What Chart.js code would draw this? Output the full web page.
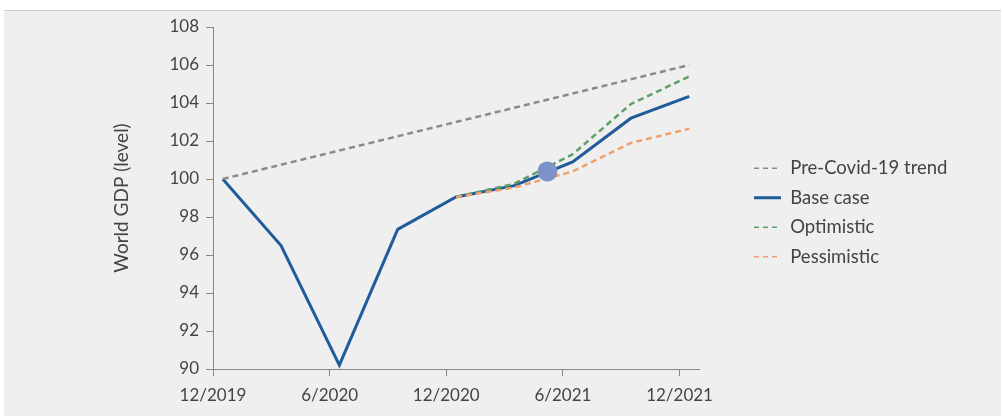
<!DOCTYPE html>
<html>
<head>
<meta charset="utf-8">
<script src="https://cdn.jsdelivr.net/npm/chart.js@4.4.1/dist/chart.umd.min.js"></script>
<style>
  body { margin: 0; background: #fff; }
  .panel {
    position: absolute; left: 4px; top: 10px; width: 997px; height: 406px;
    background: #efefef; border-top: 1px solid #cfcfcf;
  }
  #myChart { position: absolute; left: 0; top: 0; }
</style>
</head>
<body>
<div class="panel"></div>
<canvas id="myChart" width="1004" height="416"></canvas>
<script>
"use strict";

// months after 12/2019
let months = [0.5, 3.5, 6.5, 9.5, 12.5, 15.5, 18.5, 21.5, 24.5];
let baseCase = [100, 96.5, 90.2, 97.35, 99.05, 99.65, 100.9, 103.2, 104.35];

let scenarioMonths = [12.5, 15.5, 18.5, 21.5, 24.5];
let optimistic = [99.05, 99.75, 101.3, 103.95, 105.4];
let pessimistic = [99.05, 99.55, 100.4, 101.9, 102.65];

let trendMonths = [0.5, 24.5];
let trend = [100, 106];

let markerMonth = [17.2];
let markerValue = [100.4];

let tickMonths = [0, 6, 12, 18, 24];
let tickLabels = ["12/2019", "6/2020", "12/2020", "6/2021", "12/2021"];

const pts = (xs, ys) => xs.map((x, i) => ({ x: x, y: ys[i] }));

const font = { family: "Lato", size: 17 };
const bigFont = { family: "Lato", size: 18.5 };
const textColor = "#444";

// keep the legend clear of the plot, like the original
const legendPlace = {
  id: "legendPlace",
  afterInit(chart) {
    const lg = chart.legend;
    const fit = lg.fit.bind(lg);
    lg.fit = function () {
      fit();
      this.width = 305;
    };
  },
  afterLayout(chart) {
    const lg = chart.legend;
    lg.left += 44;
    lg.right += 44;
    lg.top -= 6;
    lg.bottom -= 6;
  },
};

const ctx = document.getElementById("myChart");

new Chart(ctx, {
  data: {
    datasets: [
      {
        type: "line",
        label: "Pre-Covid-19 trend",
        data: pts(trendMonths, trend),
        borderColor: "#8a8a8a",
        borderWidth: 2.5,
        borderDash: [6, 4],
        pointRadius: 0,
        order: 3,
      },
      {
        type: "line",
        label: "Base case",
        data: pts(months, baseCase),
        borderColor: "#1f5c99",
        borderWidth: 3,
        pointRadius: 0,
        order: 4,
      },
      {
        type: "line",
        label: "Optimistic",
        data: pts(scenarioMonths, optimistic),
        borderColor: "#5c9f6b",
        borderWidth: 2.5,
        borderDash: [6, 4],
        pointRadius: 0,
        order: 2,
      },
      {
        type: "line",
        label: "Pessimistic",
        data: pts(scenarioMonths, pessimistic),
        borderColor: "#f0a06c",
        borderWidth: 2.5,
        borderDash: [6, 4],
        pointRadius: 0,
        order: 1,
      },
      {
        type: "scatter",
        label: "now",
        data: pts(markerMonth, markerValue),
        backgroundColor: "#7b93c6",
        borderWidth: 0,
        pointRadius: 10,
        order: 0,
      },
    ],
  },
  options: {
    responsive: false,
    animation: false,
    layout: { padding: { left: 110, top: 27, right: 0, bottom: 6 } },
    plugins: {
      tooltip: { enabled: false },
      legend: {
        position: "right",
        labels: {
          font: bigFont,
          color: textColor,
          usePointStyle: true,
          pointStyle: "line",
          pointStyleWidth: 27,
          padding: 11,
          generateLabels: (chart) => {
            const items = Chart.defaults.plugins.legend.labels.generateLabels(chart);
            items.forEach((item) => {
              const ds = chart.data.datasets[item.datasetIndex];
              item.lineDash = ds.borderDash ? [5, 4] : [];
              item.lineWidth = ds.borderDash ? 1.5 : 3;
            });
            return items;
          },
          filter: (item) => item.text !== "now",
          sort: (a, b) => a.datasetIndex - b.datasetIndex,
        },
      },
    },
    scales: {
      x: {
        type: "linear",
        min: 0,
        max: 25,
        afterBuildTicks: (axis) => {
          axis.ticks = tickMonths.map((v) => ({ value: v }));
        },
        afterFit: (axis) => {
          axis.height = 41;
        },
        ticks: {
          font: font,
          color: textColor,
          padding: 9,
          autoSkip: false,
          maxRotation: 0,
          callback: (v) => tickLabels[tickMonths.indexOf(v)],
        },
        grid: { drawOnChartArea: false, tickLength: 7, color: "#888" },
        border: { color: "#888" },
      },
      y: {
        min: 90,
        max: 108,
        afterFit: (axis) => {
          axis.width = 103;
        },
        ticks: { stepSize: 2, font: font, color: textColor, padding: 7 },
        grid: { drawOnChartArea: false, tickLength: 7, color: "#888" },
        border: { color: "#888" },
        title: {
          display: true,
          text: "World GDP (level)",
          font: { family: "Lato", size: 19 },
          color: textColor,
          padding: { top: 0, bottom: 40 },
        },
      },
    },
  },
  plugins: [legendPlace],
});
</script>
</body>
</html>
